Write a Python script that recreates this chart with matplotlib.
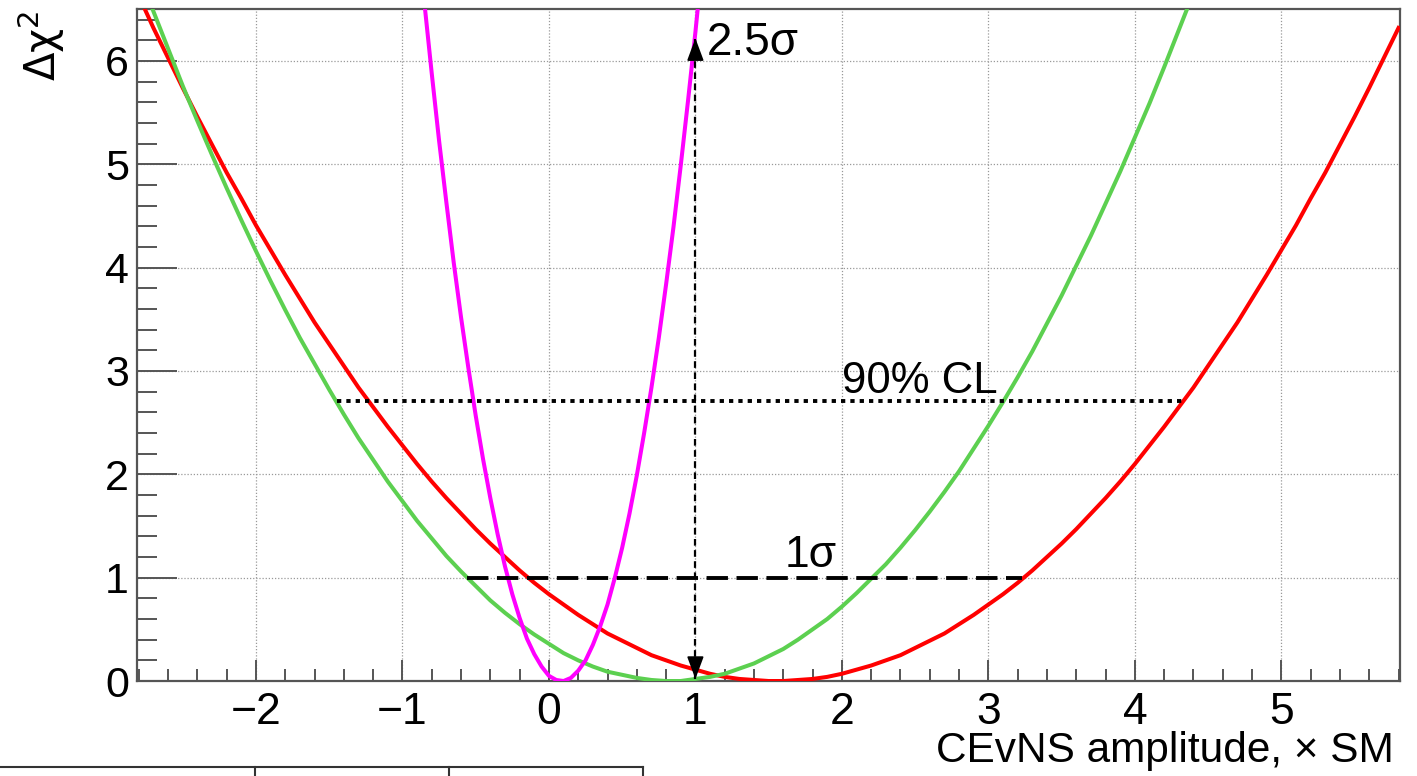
import matplotlib
matplotlib.use('Agg')
import matplotlib.pyplot as plt
from matplotlib.lines import Line2D
from matplotlib.ticker import MultipleLocator

plt.rcParams['font.family'] = ['Liberation Sans', 'DejaVu Sans']
plt.rcParams['mathtext.fontset'] = 'dejavusans'

# curves (amplitude x SM, delta chi2)
red_x = [-2.8, -2.7, -2.6, -2.5, -2.4, -2.3, -2.2, -2.1, -2.0, -1.9, -1.8, -1.7, -1.6,
         -1.5, -1.4, -1.3, -1.2, -1.1, -1.0, -0.9, -0.8, -0.7, -0.6, -0.5, -0.4, -0.3,
         -0.2, -0.1, 0.0, 0.1, 0.2, 0.3, 0.4, 0.5, 0.6, 0.7, 0.8, 0.9, 1.0, 1.1, 1.2,
         1.3, 1.4, 1.5, 1.6, 1.7, 1.8, 1.9, 2.0, 2.1, 2.2, 2.3, 2.4, 2.5, 2.6, 2.7, 2.8,
         2.9, 3.0, 3.1, 3.2, 3.3, 3.4, 3.5, 3.6, 3.7, 3.8, 3.9, 4.0, 4.1, 4.2, 4.3, 4.4,
         4.5, 4.6, 4.7, 4.8, 4.9, 5.0, 5.1, 5.2, 5.3, 5.4, 5.5, 5.6, 5.7, 5.8]
red_y = [6.63, 6.32, 6.03, 5.74, 5.46, 5.19, 4.92, 4.67, 4.41, 4.17, 3.93, 3.70, 3.47,
         3.26, 3.05, 2.84, 2.65, 2.46, 2.28, 2.10, 1.93, 1.77, 1.62, 1.47, 1.33, 1.20,
         1.07, 0.95, 0.84, 0.74, 0.64, 0.55, 0.46, 0.39, 0.32, 0.25, 0.20, 0.15, 0.11, 0.07, 0.04,
         0.02, 0.01, 0.00, 0.00, 0.01, 0.02, 0.04, 0.07, 0.11, 0.15, 0.20, 0.25, 0.32, 0.39, 0.46, 0.55,
         0.64, 0.74, 0.84, 0.95, 1.07, 1.20, 1.33, 1.47, 1.62, 1.77, 1.93, 2.10, 2.28, 2.46, 2.65, 2.84,
         3.05, 3.26, 3.47, 3.70, 3.93, 4.17, 4.41, 4.67, 4.92, 5.19, 5.46, 5.74, 6.03, 6.32]

green_x = [-2.8, -2.7, -2.6, -2.5, -2.4, -2.3, -2.2, -2.1, -2.0, -1.9, -1.8, -1.7, -1.6,
           -1.5, -1.4, -1.3, -1.2, -1.1, -1.0, -0.9, -0.8, -0.7, -0.6, -0.5, -0.4, -0.3,
           -0.2, -0.1, 0.0, 0.1, 0.2, 0.3, 0.4, 0.5, 0.6, 0.7, 0.8, 0.9, 1.0, 1.1, 1.2,
           1.3, 1.4, 1.5, 1.6, 1.7, 1.8, 1.9, 2.0, 2.1, 2.2, 2.3, 2.4, 2.5, 2.6, 2.7, 2.8,
           2.9, 3.0, 3.1, 3.2, 3.3, 3.4, 3.5, 3.6, 3.7, 3.8, 3.9, 4.0, 4.1, 4.2, 4.3, 4.4]
green_y = [6.85, 6.48, 6.12, 5.76, 5.42, 5.09, 4.77, 4.46, 4.16, 3.87, 3.59, 3.32, 3.07,
           2.82, 2.58, 2.35, 2.14, 1.93, 1.74, 1.55, 1.38, 1.21, 1.06, 0.92, 0.78, 0.66,
           0.55, 0.45, 0.36, 0.27, 0.20, 0.14, 0.09, 0.06, 0.03, 0.01, 0.00, 0.00, 0.02, 0.04, 0.07,
           0.12, 0.17, 0.24, 0.31, 0.40, 0.50, 0.60, 0.72, 0.85, 0.99, 1.13, 1.29, 1.46, 1.64, 1.83, 2.03,
           2.25, 2.47, 2.70, 2.94, 3.19, 3.46, 3.73, 4.02, 4.31, 4.62, 4.93, 5.26, 5.59, 5.94, 6.30, 6.66]

mag_x = [-0.90, -0.85, -0.80, -0.75, -0.70, -0.65, -0.60, -0.55, -0.50, -0.45, -0.40,
         -0.35, -0.30, -0.25, -0.20, -0.15, -0.10, -0.05, 0.00, 0.05, 0.10, 0.15, 0.20,
         0.25, 0.30, 0.35, 0.40, 0.45, 0.50, 0.55, 0.60, 0.65, 0.70, 0.75, 0.80, 0.85,
         0.90, 0.95, 1.00, 1.05]
mag_y = [7.28, 6.56, 5.88, 5.23, 4.63, 4.05, 3.52, 3.03, 2.57, 2.15, 1.77,
         1.42, 1.11, 0.84, 0.61, 0.41, 0.26, 0.14, 0.05, 0.01, 0.00, 0.03, 0.10,
         0.20, 0.35, 0.53, 0.74, 1.00, 1.29, 1.62, 1.99, 2.40, 2.84, 3.32, 3.84, 4.39,
         4.99, 5.62, 6.28, 6.99]

# confidence levels: (y, x from, x to)
cl90 = (2.71, -1.45, 4.33)
sig1 = (1.0, -0.56, 3.23)
arrow_x, arrow_lo, arrow_hi = 1.0, 0.02, 6.22

fig = plt.figure(figsize=(14.17, 7.76), dpi=100)
ax = fig.add_axes([0.0969, 0.1224, 0.8911, 0.8656])

ax.plot(red_x, red_y, color='#ff0000', lw=2.9, zorder=3)
ax.plot(green_x, green_y, color='#5cd050', lw=2.9, zorder=3)
ax.plot(mag_x, mag_y, color='#ff00ff', lw=2.9, zorder=3)

# 90% CL and 1 sigma lines
ax.plot([cl90[1], cl90[2]], [cl90[0], cl90[0]], color='k', lw=2.8,
        linestyle=(0, (1.1, 1.3)), zorder=4)
ax.plot([sig1[1], sig1[2]], [sig1[0], sig1[0]], color='k', lw=2.8,
        linestyle=(0, (5.5, 2.2)), zorder=4)

# double arrow at SM
ax.plot([arrow_x, arrow_x], [arrow_lo, arrow_hi], color='k', lw=1.6,
        linestyle=(0, (3, 2)), zorder=4)
for tip, tail in [(arrow_hi, arrow_hi - 0.13), (arrow_lo, arrow_lo + 0.13)]:
    ax.annotate('', xy=(arrow_x, tip), xytext=(arrow_x, tail),
                arrowprops=dict(arrowstyle='-|>,head_length=0.7,head_width=0.26',
                                color='k', lw=1.2, mutation_scale=20,
                                shrinkA=0, shrinkB=0), zorder=5)

ax.text(1.08, 6.17, '2.5σ', fontsize=33, va='center', ha='left')
ax.text(2.0, 2.79, '90% CL', fontsize=31.5, va='baseline', ha='left')
ax.text(1.61, 1.10, '1σ', fontsize=32, va='baseline', ha='left')

ax.set_xlim(-2.81, 5.81)
ax.set_ylim(0, 6.5)
ax.xaxis.set_major_locator(MultipleLocator(1))
ax.xaxis.set_minor_locator(MultipleLocator(0.2))
ax.yaxis.set_major_locator(MultipleLocator(1))
ax.yaxis.set_minor_locator(MultipleLocator(0.2))
ax.set_xticks([-2, -1, 0, 1, 2, 3, 4, 5])
ax.set_xticklabels(['\u22122', '\u22121', '0', '1', '2', '3', '4', '5'])

ax.grid(True, which='major', color='#999999', linestyle=(0, (1, 1.5)), lw=0.9)
ax.tick_params(axis='x', which='major', direction='in', length=15, width=1.4,
               color='#555555', labelsize=32, pad=8)
ax.tick_params(axis='x', which='minor', direction='in', length=8.5, width=1.4,
               color='#555555')
ax.tick_params(axis='y', which='major', direction='in', length=29, width=1.4,
               color='#555555', labelsize=31, pad=6)
ax.tick_params(axis='y', which='minor', direction='in', length=14.5, width=1.4,
               color='#555555')
for s in ax.spines.values():
    s.set_color('#555555')
    s.set_linewidth(1.6)

ax.set_xlabel('CEvNS amplitude, \u00d7 SM', fontsize=30.5)
ax.xaxis.label.set_va('baseline')
ax.xaxis.label.set_ha('right')
ax.xaxis.set_label_coords(0.9953, -0.1206)

ax.set_ylabel(r'$\mathrm{\Delta\chi}^{2}$', fontsize=30)
ax.yaxis.label.set_va('baseline')
ax.yaxis.label.set_ha('right')
ax.yaxis.set_label_coords(-0.064, 0.999)

# piece of a table below the plot
yl = 1 - 767 / 776
fig.add_artist(Line2D([0, 643 / 1417], [yl, yl], color='#333333', lw=1.5))
for xv in [255, 449, 643]:
    fig.add_artist(Line2D([xv / 1417, xv / 1417], [0, yl], color='#333333', lw=1.5))

fig.savefig('out.png', dpi=100)
